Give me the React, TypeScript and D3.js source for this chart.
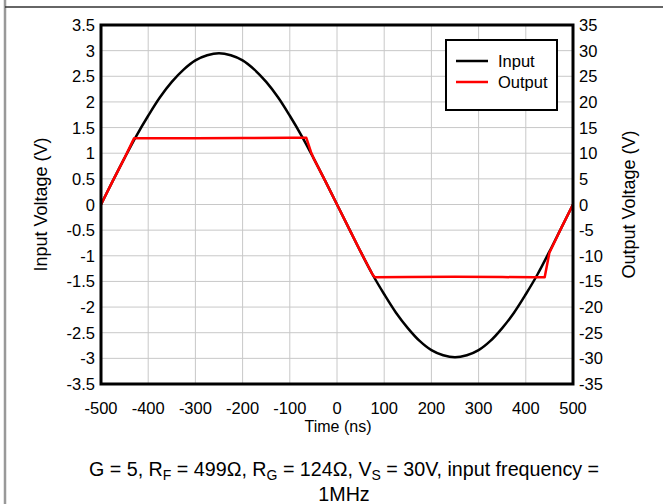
import React from "react";
import * as d3 from "d3";

const W = 663;
const H = 504;

const xTicks = [-500, -400, -300, -200, -100, 0, 100, 200, 300, 400, 500];
const yLeftTicks = [3.5, 3, 2.5, 2, 1.5, 1, 0.5, 0, -0.5, -1, -1.5, -2, -2.5, -3, -3.5];
const yRightTicks = [35, 30, 25, 20, 15, 10, 5, 0, -5, -10, -15, -20, -25, -30, -35];

const inputTime = [-500, -475, -450, -425, -400, -375, -350, -325, -300, -275, -250, -225, -200, -175, -150, -125, -100, -75, -50, -25, 0, 25, 50, 75, 100, 125, 150, 175, 200, 225, 250, 275, 300, 325, 350, 375, 400, 425, 450, 475, 500];
const inputVolt = [0, 0.46, 0.91, 1.34, 1.73, 2.09, 2.39, 2.63, 2.81, 2.91, 2.95, 2.91, 2.81, 2.63, 2.39, 2.09, 1.73, 1.34, 0.91, 0.46, 0, -0.46, -0.92, -1.36, -1.75, -2.11, -2.41, -2.66, -2.84, -2.94, -2.98, -2.94, -2.84, -2.66, -2.41, -2.11, -1.75, -1.36, -0.92, -0.46, 0];

const outputTime = [-500, -475, -450, -430, -400, -300, -200, -100, -65, -55, -50, -25, 0, 25, 50, 75, 80, 150, 250, 350, 420, 440, 450, 475, 500];
const outputVolt = [0, 4.6, 9.1, 12.9, 12.9, 12.9, 12.95, 13.0, 13.0, 10.2, 9.1, 4.6, 0, -4.6, -9.2, -13.6, -14.2, -14.15, -14.1, -14.15, -14.2, -14.2, -9.4, -4.6, 0];

const FONT = "Arial, 'Liberation Sans', sans-serif";

export default function App() {
  const left = 101;
  const right = 573;
  const top = 25;
  const bottom = 384;

  const x = d3.scaleLinear().domain([-500, 500]).range([left, right]);
  const yL = d3.scaleLinear().domain([-3.5, 3.5]).range([bottom, top]);
  const yR = d3.scaleLinear().domain([-35, 35]).range([bottom, top]);

  const inputData = inputTime.map((t, i) => [t, inputVolt[i]] as [number, number]);
  const outputData = outputTime.map((t, i) => [t, outputVolt[i]] as [number, number]);

  const inLine = d3
    .line<[number, number]>()
    .x((d) => x(d[0]))
    .y((d) => yL(d[1]))
    .curve(d3.curveCatmullRom);
  const outLine = d3
    .line<[number, number]>()
    .x((d) => x(d[0]))
    .y((d) => yR(d[1]))
    .curve(d3.curveLinear);

  const cx = (left + right) / 2;
  const cy = (top + bottom) / 2;
  const tickFs = 16.5;

  return (
    <svg
      width={W}
      height={H}
      style={{ position: "absolute", left: 0, top: 0, background: "#fff" }}
      fontFamily={FONT}
    >
      <line x1={5} y1={0} x2={5} y2={H} stroke="#999" strokeWidth={2.5} />
      <line x1={5} y1={7} x2={W} y2={7} stroke="#333" strokeWidth={1.5} />

      {xTicks.map((t) => (
        <line key={"gx" + t} x1={x(t)} x2={x(t)} y1={top} y2={bottom} stroke="#c8c8c8" strokeWidth={1} />
      ))}
      {yLeftTicks.map((t) => (
        <line key={"gy" + t} x1={left} x2={right} y1={yL(t)} y2={yL(t)} stroke="#c8c8c8" strokeWidth={1} />
      ))}

      <path d={inLine(inputData) || ""} fill="none" stroke="#000" strokeWidth={2.5} />
      <path d={outLine(outputData) || ""} fill="none" stroke="#ff0000" strokeWidth={2.5} strokeLinejoin="round" />

      <rect x={left} y={top} width={right - left} height={bottom - top} fill="none" stroke="#000" strokeWidth={3} />

      {xTicks.map((t) => (
        <text key={"tx" + t} x={x(t)} y={bottom + 30} textAnchor="middle" fontSize={tickFs} fill="#000">
          {t}
        </text>
      ))}
      {yLeftTicks.map((t) => (
        <text key={"tl" + t} x={left - 6} y={yL(t) + 6} textAnchor="end" fontSize={tickFs} fill="#000">
          {t}
        </text>
      ))}
      {yRightTicks.map((t) => (
        <text key={"tr" + t} x={right + 6} y={yR(t) + 6} textAnchor="start" fontSize={tickFs} fill="#000">
          {t}
        </text>
      ))}

      <text x={cx + 1} y={bottom + 48} textAnchor="middle" fontSize={16}>
        Time (ns)
      </text>
      <text transform={`translate(47,${cy}) rotate(-90)`} textAnchor="middle" fontSize={18}>
        Input Voltage (V)
      </text>
      <text transform={`translate(635,${cy}) rotate(-90)`} textAnchor="middle" fontSize={18}>
        Output Voltage (V)
      </text>

      <g>
        <rect x={446} y={40} width={111} height={70} fill="#fff" stroke="#000" strokeWidth={2} />
        <line x1={456} x2={488} y1={61} y2={61} stroke="#000" strokeWidth={2.5} />
        <line x1={456} x2={488} y1={82} y2={82} stroke="#ff0000" strokeWidth={2.5} />
        <text x={498} y={67} fontSize={16.5}>Input</text>
        <text x={498} y={88} fontSize={16.5}>Output</text>
      </g>

      <text x={344} y={476} textAnchor="middle" fontSize={19.7}>
        G = 5, R<tspan baselineShift="-25%" fontSize={14}>F</tspan> = 499Ω, R
        <tspan baselineShift="-25%" fontSize={14}>G</tspan> = 124Ω, V
        <tspan baselineShift="-25%" fontSize={14}>S</tspan> = 30V, input frequency =
      </text>
      <text x={344} y={501} textAnchor="middle" fontSize={19.7}>
        1MHz
      </text>
    </svg>
  );
}
